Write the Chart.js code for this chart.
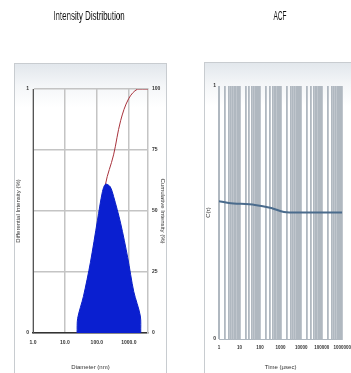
<!DOCTYPE html>
<html lang="en">
<head>
    <meta charset="UTF-8">
    <title>Intensity Distribution / ACF</title>
    <script src="https://cdn.jsdelivr.net/npm/chart.js"></script>
    <style>
        body {
            margin: 0;
            width: 351px;
            height: 373px;
            overflow: hidden;
            background: #fff;
            font-family: "Liberation Sans", Arial, sans-serif;
            position: relative;
        }

        .title {
            position: absolute;
            top: 8px;
            font-family: "Liberation Sans", Arial, sans-serif;
            font-size: 13px;
            color: #111;
            white-space: nowrap;
            will-change: transform;
        }

        .panel {
            position: absolute;
            border: 1px solid #c8ccd0;
            background: linear-gradient(to bottom, #e2e7ec 0%, #f4f6f8 7%, #ffffff 14%);
        }
    </style>
</head>
<body>
    <div class="title" style="left: 89px; transform: translateX(-50%) scaleX(0.61);">Intensity Distribution</div>
    <div class="title" style="left: 280px; transform: translateX(-50%) scaleX(0.5);">ACF</div>

    <div class="panel" style="left: 14px; top: 63px; width: 151px; height: 309px;">
        <canvas id="dist-chart" width="151" height="309"></canvas>
    </div>
    <div class="panel" style="left: 204px; top: 62px; width: 152px; height: 310px;">
        <canvas id="acf-chart" width="152" height="310"></canvas>
    </div>

    <script>
        // Intensity distribution (diameter in nm, log scale)
        const diameter = [24, 25, 38, 63, 104, 150, 187, 260, 334, 555, 923, 1430, 2300, 2370];
        const differential = [0, 0.06, 0.15, 0.29, 0.46, 0.58, 0.61, 0.6, 0.56, 0.45, 0.31, 0.17, 0.07, 0];
        const cumDiameter = [24, 63, 104, 187, 334, 555, 990, 1900, 4000];
        const cumulative = [0, 10, 35, 61, 73, 87, 96, 100, 100];
        const diameterTicks = [1, 10, 100, 1000];

        // Autocorrelation function (time in microseconds, log scale)
        const acfTime = [1, 3, 56, 350, 1450, 17700, 1000000];
        const acfValue = [0.545, 0.538, 0.53, 0.518, 0.502, 0.5, 0.5];
        const timeDecades = [1, 10, 100, 1000, 10000, 100000, 1000000];

        const tickFont = { family: 'Liberation Sans', size: 5, weight: 'bold' };
        const titleFont = { family: 'Liberation Sans', size: 6 };

        new Chart(document.getElementById('dist-chart'), {
            type: 'line',
            data: {
                datasets: [
                    {
                        label: 'Differential',
                        data: diameter.map((d, i) => ({ x: d, y: differential[i] })),
                        yAxisID: 'y',
                        borderColor: '#0a1fc8',
                        backgroundColor: '#0a1fd0',
                        borderWidth: 1,
                        fill: 'origin',
                        tension: 0.3,
                        pointRadius: 0,
                        order: 0
                    },
                    {
                        label: 'Cumulative',
                        data: cumDiameter.map((d, i) => ({ x: d, y: cumulative[i] })),
                        yAxisID: 'y2',
                        borderColor: '#a8323c',
                        borderWidth: 1,
                        fill: false,
                        tension: 0.35,
                        pointRadius: 0,
                        order: 1
                    }
                ]
            },
            options: {
                responsive: false,
                animation: false,
                layout: { padding: { top: 25, left: 0, right: 0, bottom: 0 } },
                plugins: { legend: { display: false }, tooltip: { enabled: false } },
                scales: {
                    x: {
                        type: 'logarithmic',
                        min: 1,
                        max: 4000,
                        afterBuildTicks: s => { s.ticks = diameterTicks.map(v => ({ value: v })); },
                        afterFit: s => { s.height = 40; },
                        grid: { color: '#c4c4c4', lineWidth: 1.5, drawTicks: false, tickLength: 0 },
                        border: { color: '#333', width: 1.5 },
                        ticks: {
                            autoSkip: false,
                            maxRotation: 0,
                            padding: 7,
                            color: '#333',
                            font: tickFont,
                            callback: v => Number(v).toFixed(1)
                        },
                        title: { display: true, text: 'Diameter (nm)', color: '#333', font: titleFont, padding: 2 }
                    },
                    y: {
                        position: 'left',
                        min: 0,
                        max: 1,
                        afterFit: s => { s.width = 18; },
                        grid: { color: '#c4c4c4', lineWidth: 1.5, drawTicks: false, tickLength: 0 },
                        border: { color: '#555', width: 1 },
                        ticks: {
                            stepSize: 0.25,
                            padding: 4,
                            color: '#333',
                            font: tickFont,
                            callback: v => (v === 0 || v === 1) ? String(v) : ''
                        },
                        title: { display: true, text: 'Differential Intensity (%)', color: '#333', font: titleFont, padding: 0 }
                    },
                    y2: {
                        position: 'right',
                        min: 0,
                        max: 100,
                        afterFit: s => { s.width = 18; },
                        grid: { display: false, drawTicks: false, tickLength: 0 },
                        border: { color: '#c4c4c4', width: 1.5 },
                        ticks: {
                            stepSize: 25,
                            padding: 4,
                            color: '#333',
                            font: tickFont
                        },
                        title: { display: true, text: 'Cumulative Intensity (%)', color: '#333', font: titleFont, padding: 0 }
                    }
                }
            }
        });

        // minor log grid positions for the ACF time axis
        const timeGrid = [];
        timeDecades.forEach(d => {
            for (let k = 1; k < 10; k++) {
                if (d * k <= 1000000) timeGrid.push(d * k);
            }
        });

        new Chart(document.getElementById('acf-chart'), {
            type: 'line',
            data: {
                datasets: [{
                    label: 'ACF',
                    data: acfTime.map((t, i) => ({ x: t, y: acfValue[i] })),
                    borderColor: '#4a6b8c',
                    borderWidth: 2,
                    fill: false,
                    tension: 0.3,
                    pointRadius: 0
                }]
            },
            options: {
                responsive: false,
                animation: false,
                layout: { padding: { top: 23, left: 0, right: 9, bottom: 0 } },
                plugins: { legend: { display: false }, tooltip: { enabled: false } },
                scales: {
                    x: {
                        type: 'logarithmic',
                        min: 1,
                        max: 1000000,
                        afterBuildTicks: s => { s.ticks = timeGrid.map(v => ({ value: v })); },
                        afterFit: s => { s.height = 34; },
                        grid: { color: '#b0b8c0', lineWidth: 1.8, drawTicks: false, tickLength: 0 },
                        border: { color: '#b0b8c0', width: 1 },
                        ticks: {
                            autoSkip: false,
                            maxRotation: 0,
                            padding: 6,
                            color: '#333',
                            font: { family: 'Liberation Sans', size: 4.5, weight: 'bold' },
                            callback: v => timeDecades.includes(v) ? String(v) : ''
                        },
                        title: { display: true, text: 'Time (µsec)', color: '#333', font: titleFont, padding: 2 }
                    },
                    y: {
                        min: 0,
                        max: 1,
                        afterFit: s => { s.width = 14; },
                        grid: { display: false, drawTicks: false, tickLength: 0 },
                        border: { color: '#b0b8c0', width: 1 },
                        ticks: { stepSize: 1, padding: 3, color: '#333', font: tickFont },
                        title: { display: true, text: 'C(τ)', color: '#333', font: titleFont, padding: 0 }
                    }
                }
            }
        });
    </script>
</body>
</html>
